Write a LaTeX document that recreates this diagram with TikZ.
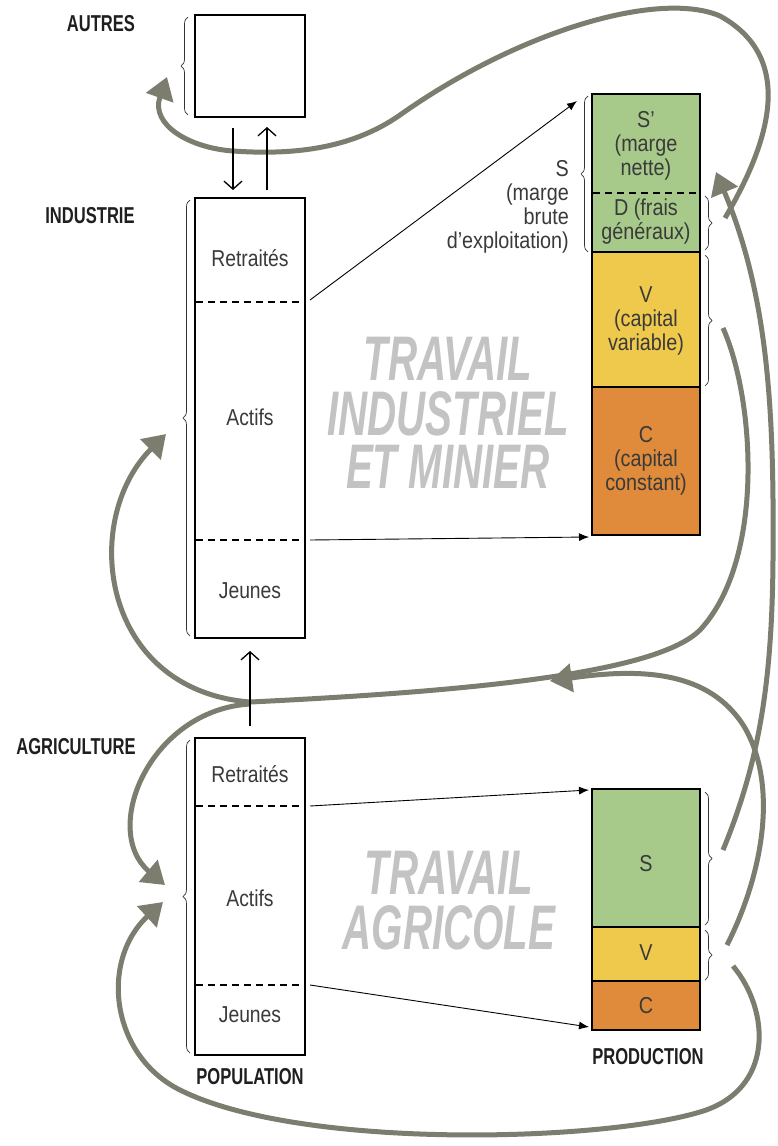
\documentclass[tikz,border=0pt]{standalone}
\usepackage{fontspec}
\setmainfont{Liberation Sans}
\newfontfamily\popf{Liberation Sans}[FakeStretch=0.84]
\newfontfamily\stkf{Liberation Sans}[FakeStretch=0.86]
\newfontfamily\labf{Liberation Sans}[FakeStretch=0.72]
\newfontfamily\bigf{Liberation Sans}[FakeStretch=0.64]
\usetikzlibrary{arrows.meta,decorations.pathreplacing}
\definecolor{flowc}{HTML}{7C7C6F}
\definecolor{grn}{HTML}{A7C98A}
\definecolor{yel}{HTML}{EFC94C}
\definecolor{org}{HTML}{DF8B3B}
\definecolor{txt}{HTML}{3A3A3A}
\definecolor{bigc}{HTML}{C3C3C3}
\tikzset{
  box/.style={draw=black, line width=2.6pt, minimum width=110pt, inner sep=0pt},
  stk/.style={draw=black, line width=2.6pt, minimum width=108pt, inner sep=0pt},
  poptext/.style={font=\popf\fontsize{23}{26}\selectfont, text=txt, inner sep=0pt},
  stktext/.style={font=\stkf\fontsize{23}{24}\selectfont, text=txt, align=center, inner sep=0pt},
  lab/.style={font=\labf\bfseries\fontsize{23}{26}\selectfont, text=black!88, inner sep=0pt},
  big/.style={font=\bigf\bfseries\itshape\fontsize{63}{54}\selectfont, text=bigc, inner sep=0pt, text height=45pt, text depth=0pt},
  flow/.style={draw=flowc, line width=5pt, -{Triangle[length=22pt,width=28pt]}},
  flown/.style={draw=flowc, line width=5pt},
  thinarrow/.style={draw=black, line width=0.9pt, -{Latex[length=10pt,width=8pt]}},
  chev/.style={draw=black, line width=1.3pt, -{Straight Barb[length=8pt,width=18pt]}},
  brc/.style={decorate, decoration={brace, amplitude=7pt}, draw=black!80, line width=0.7pt},
  dsh/.style={draw=black, dash pattern=on 7pt off 5pt, line width=1.8pt}
}
\begin{document}
\begin{tikzpicture}[x=1pt,y=-1pt]
\useasboundingbox[fill=white] (0,0) rectangle (778,1146);

% ---------- coordinates for flows ----------
\coordinate (c1s) at (725,218);
\coordinate (c1e) at (167,77);
\coordinate (c2s) at (723,850);
\coordinate (c2e) at (716,172);
\coordinate (cBs) at (723,328);
\coordinate (J) at (250,702);
\coordinate (Jb) at (250,704);
\coordinate (indTip) at (166,434);
\coordinate (agrTip) at (165,885);
\coordinate (c3s) at (727,945);
\coordinate (c3e) at (550,681);
\coordinate (c4s) at (733,966);
\coordinate (c4e) at (163,902);

% ---------- gray flows ----------
\draw[flow] (c1s) .. controls (765,150) and (800,60) .. (720,16)
  .. controls (660,-10) and (520,30) .. (400,115)
  .. controls (350,150) and (290,155) .. (233,151)
  .. controls (190,148) and (150,125) .. (c1e);
\draw[flow] (c2s) .. controls (760,760) and (772,680) .. (773,560)
  .. controls (774,420) and (770,300) .. (c2e);
\draw[flown] (cBs) .. controls (755,400) and (765,560) .. (700,630)
  .. controls (660,670) and (500,690) .. (J);
\draw[flow] (J) .. controls (100,690) and (80,520) .. (indTip);
\draw[flow] (Jb) .. controls (150,710) and (100,830) .. (agrTip);
\draw[flow] (c3s) .. controls (760,880) and (780,790) .. (745,728)
  .. controls (710,670) and (640,668) .. (c3e);
\draw[flow] (c4s) .. controls (770,1010) and (775,1090) .. (700,1112)
  .. controls (600,1142) and (300,1150) .. (180,1090)
  .. controls (110,1055) and (100,960) .. (c4e);

% ---------- population boxes ----------
\node[box, minimum height=102pt] (autres) at (250,66) {};
\node[box, minimum height=440pt] (indpop) at (250,418) {};
\node[box, minimum height=317pt] (agripop) at (250,896.5) {};
\draw[dsh] (196,302) -- (304,302);
\draw[dsh] (196,540) -- (304,540);
\draw[dsh] (196,806) -- (304,806);
\draw[dsh] (196,985) -- (304,985);

\node[poptext] (t1) at (250,258) {Retraités};
\node[poptext] (t2) at (250,417) {Actifs};
\node[poptext] (t3) at (250,591) {Jeunes};
\node[poptext] (t4) at (250,774) {Retraités};
\node[poptext] (t5) at (250,898) {Actifs};
\node[poptext] (t6) at (250,1015) {Jeunes};

% ---------- labels ----------
\node[lab] (lAutres) at (101,24) {AUTRES};
\node[lab] (lInd) at (90,216) {INDUSTRIE};
\node[lab] (lAgri) at (76,747) {AGRICULTURE};
\node[lab] (lPop) at (250,1077) {POPULATION};
\node[lab] (lProd) at (648,1057) {PRODUCTION};

% ---------- braces ----------
\draw[brc] (188,115) -- (188,17);
\draw[brc] (190,636) -- (190,200);
\draw[brc] (190,1053) -- (190,740);
\draw[brc] (588,252) -- (588,96);
\draw[brc] (705,196) -- (705,250);
\draw[brc] (705,255) -- (705,386);
\draw[brc] (705,792) -- (705,925);
\draw[brc] (705,930) -- (705,980);

% ---------- production stacks ----------
\node[stk, fill=grn, minimum height=158pt] (indS) at (646,173) {};
\node[stk, fill=yel, minimum height=135pt] (indV) at (646,319.5) {};
\node[stk, fill=org, minimum height=148pt] (indC) at (646,461) {};
\draw[dsh] (593,193) -- (699,193);
\node[stk, fill=grn, minimum height=138pt] (agrS) at (646,858) {};
\node[stk, fill=yel, minimum height=54pt] (agrV) at (646,954) {};
\node[stk, fill=org, minimum height=49pt] (agrC) at (646,1005.5) {};

\node[stktext] (tSp) at (646,146) {S’\\(marge\\nette)};
\node[stktext] (tD) at (646,222) {D (frais\\généraux)};
\node[stktext] (tV) at (646,321) {V\\(capital\\variable)};
\node[stktext] (tC) at (646,461) {C\\(capital\\constant)};
\node[stktext, align=right, anchor=east] (tS) at (569,207) {S\\(marge\\brute\\d’exploitation)};
\node[stktext] (tSa) at (646,864) {S};
\node[stktext] (tVa) at (646,953) {V};
\node[stktext] (tCa) at (646,1006) {C};

% ---------- big background texts ----------
\node[big] (bigInd1) at (448,357.5) {TRAVAIL};
\node[big] (bigInd2) at (448,412.5) {INDUSTRIEL};
\node[big] (bigInd3) at (448,466) {ET MINIER};
\node[big] (bigAgr1) at (449,872) {TRAVAIL};
\node[big] (bigAgr2) at (449,927) {AGRICOLE};

% ---------- thin arrows ----------
\coordinate (a1s) at (310,300);
\coordinate (a1e) at (577,101);
\coordinate (a2s) at (310,540);
\coordinate (a2e) at (589,537);
\coordinate (a3s) at (310,806);
\coordinate (a3e) at (589,790);
\coordinate (a4s) at (310,985);
\coordinate (a4e) at (589,1027);
\draw[thinarrow] (a1s) -- (a1e);
\draw[thinarrow] (a2s) -- (a2e);
\draw[thinarrow] (a3s) -- (a3e);
\draw[thinarrow] (a4s) -- (a4e);

% ---------- chevron arrows ----------
\coordinate (v1s) at (233,128);
\coordinate (v1e) at (233,190);
\coordinate (v2s) at (267,190);
\coordinate (v2e) at (267,127);
\coordinate (v3s) at (250,726);
\coordinate (v3e) at (250,651);
\draw[chev] (v1s) -- (v1e);
\draw[chev] (v2s) -- (v2e);
\draw[chev] (v3s) -- (v3e);
\end{tikzpicture}
\end{document}
